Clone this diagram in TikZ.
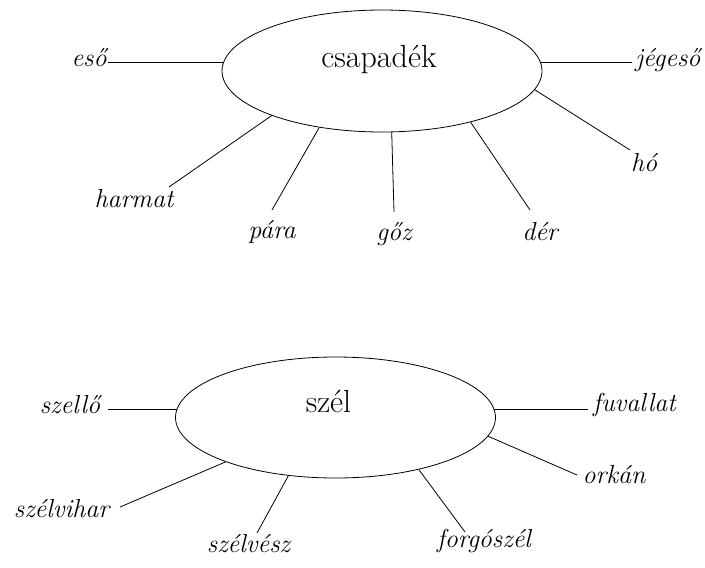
\documentclass[tikz,border=0pt]{standalone}
\usetikzlibrary{shapes.geometric}
\begin{document}
\begin{tikzpicture}[x=1pt,y=-1pt,line width=0.8pt,
  oval/.style={draw,ellipse,inner sep=0pt,minimum width=320pt},
  maintext/.style={font=\fontsize{32}{38}\selectfont,inner sep=0pt,anchor=mid},
  lab/.style={font=\fontsize{26}{31}\selectfont\itshape,inner sep=0pt,anchor=mid}]
\useasboundingbox (0,0) rectangle (705,568);
% top
\node[oval,minimum height=122pt] (csap) at (382,71) {};
\node[maintext] (csapt) at (379,65) {csapadék};
\coordinate (e1) at (108,63);
\coordinate (e2) at (632,62);
\coordinate (e3) at (630,150);
\coordinate (e4) at (530,210);
\coordinate (e5) at (394,212);
\coordinate (e6) at (272,210);
\coordinate (e7) at (169,187);
\node[lab,anchor=mid east] (eso) at (107,64) {eső};
\node[lab,anchor=mid west] (jeg) at (635,64) {jégeső};
\node[lab] (ho) at (644,169) {hó};
\node[lab] (der) at (540,238) {dér};
\node[lab] (goz) at (394,238) {gőz};
\node[lab] (para) at (272,236) {pára};
\node[lab] (harm) at (134,205) {harmat};
\draw (csap.177) -- (csap.177 -| e1);
\draw (csap.3) -- (csap.3 -| e2);
\draw (csap.353.4) -- (e3);
\draw (csap.330.3) -- (e4);
\draw (csap.279.2) -- (e5);
\draw (csap.222.1) -- (e6);
\draw (csap.202.9) -- (e7);
% bottom
\node[oval,minimum height=121pt] (szel) at (335.5,417.5) {};
\node[maintext] (szelt) at (328.5,410.5) {szél};
\coordinate (f1) at (108,411);
\coordinate (f2) at (588,407);
\coordinate (f3) at (577,475);
\coordinate (f4) at (465,532);
\coordinate (f5) at (257,533);
\coordinate (f6) at (120,507);
\node[lab] (szello) at (70,411) {szellő};
\node[lab] (fuv) at (634.5,409) {fuvallat};
\node[lab] (ork) at (614,481) {orkán};
\node[lab] (forg) at (484,545) {forgószél};
\node[lab] (szv) at (248.5,550) {szélvész};
\node[lab] (szvh) at (61.5,515) {szélvihar};
\draw (szel.177.7) -- (szel.177.7 -| f1);
\draw (szel.3.8) -- (szel.3.8 -| f2);
\draw (szel.353.1) -- (f3);
\draw (szel.328) -- (f4);
\draw (szel.231.4) -- (f5);
\draw (szel.202.9) -- (f6);
\end{tikzpicture}
\end{document}
